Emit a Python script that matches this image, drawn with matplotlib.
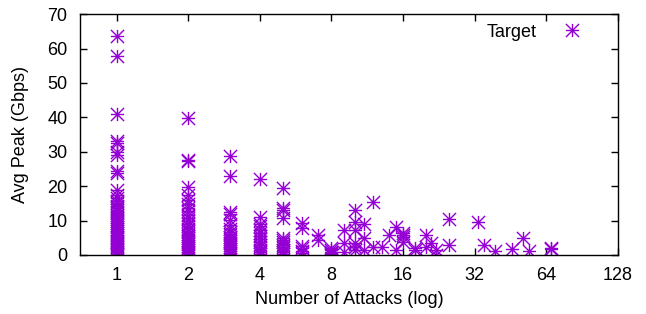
import matplotlib
matplotlib.use("Agg")
import matplotlib.pyplot as plt
from matplotlib.path import Path
import numpy as np

plt.rcParams['font.family'] = ['Liberation Sans', 'DejaVu Sans']

# number of attacks per target and the avg peak (Gbps)
n1 = [63.5, 57.8, 41.0, 33.0, 32.5, 30.0, 29.2, 24.4, 23.8, 18.9, 17.5, 16.6,
      15.8, 15.0, 14.3, 13.6, 13.0, 12.4, 11.7, 11.1, 10.5, 9.9, 9.3, 8.7, 8.1,
      7.5, 7.0, 6.4, 5.9, 5.3, 4.8, 4.2, 3.7, 3.2, 2.7, 2.2, 1.7, 1.2, 0.8, 0.4, 0.1]
n2 = [39.8, 27.7, 27.2, 19.8, 17.4, 16.1, 14.9, 13.6, 12.7, 11.6, 10.6, 9.8,
      9.0, 8.3, 7.6, 6.9, 6.2, 5.6, 5.0, 4.4, 3.8, 3.2, 2.6, 2.0, 1.5, 1.0, 0.5, 0.1]
n3 = [28.8, 22.9, 12.6, 11.8, 10.2, 8.8, 7.5, 6.8, 6.0, 5.3, 4.6, 4.0, 3.4,
      2.8, 2.2, 1.6, 1.1, 0.6, 0.2]
n4 = [22.0, 11.1, 9.0, 8.4, 7.2, 6.4, 5.5, 4.7, 3.8, 3.0, 2.2, 1.5, 0.8, 0.2]
n5 = [19.5, 13.6, 13.0, 10.8, 5.0, 4.4, 3.7, 3.0, 2.2, 1.5, 0.8, 0.2]
n6 = [9.3, 7.8, 2.6, 2.0, 1.2, 0.5]
n7 = [5.8, 4.4]
n8 = [2.0, 1.4, 1.0, 0.5, 0.2, 0.0]
rest_x = [9, 9, 9, 10, 10, 10, 10, 10, 10, 11, 11, 11, 12, 12, 13, 14, 15, 15,
          16, 16, 16, 16, 18, 18, 20, 20, 21, 22, 22, 25, 25, 33, 35, 39, 46,
          51, 54, 67, 67]
rest_y = [7.3, 3.5, 1.0, 13.1, 9.5, 7.3, 3.5, 2.4, 1.5, 9.0, 4.9, 1.5, 15.5,
          2.4, 2.4, 5.8, 8.2, 1.5, 6.4, 5.3, 3.9, 5.8, 1.5, 2.0, 5.8, 2.4, 3.4,
          1.5, 0.0, 10.4, 2.9, 9.7, 2.9, 1.2, 1.7, 4.9, 1.2, 1.7, 2.0]

xs = ([1] * len(n1) + [2] * len(n2) + [3] * len(n3) + [4] * len(n4)
      + [5] * len(n5) + [6] * len(n6) + [7] * len(n7) + [8] * len(n8) + rest_x)
ys = n1 + n2 + n3 + n4 + n5 + n6 + n7 + n8 + rest_y

# gnuplot style asterisk: + and x together
star = Path([(-1, 0), (1, 0), (0, -1), (0, 1), (-1, -1), (1, 1), (-1, 1), (1, -1)],
            [Path.MOVETO, Path.LINETO] * 4)

fs = 13

fig = plt.figure(figsize=(6.46, 3.14), dpi=100)
ax = fig.add_axes([0.124, 0.188, 0.832, 0.767])
ax.plot(xs, ys, linestyle='none', marker=star, markersize=9.5,
        markeredgewidth=1.0, color='#9400D3', markerfacecolor='none',
        label='Target')

ax.set_xscale('log', base=2)
ax.set_xlim(0.70, 128)
ax.set_ylim(0, 70)
xt = [1, 2, 4, 8, 16, 32, 64, 128]
ax.set_xticks(xt)
ax.set_xticklabels([str(t) for t in xt])
ax.minorticks_off()
ax.set_yticks(np.arange(0, 71, 10))
ax.tick_params(direction='in', top=True, right=True, length=5, width=1,
               labelsize=fs, pad=9)
for s in ax.spines.values():
    s.set_linewidth(1.0)

ax.set_xlabel('Number of Attacks (log)', fontsize=fs, labelpad=5)
ax.set_ylabel('Avg Peak (Gbps)', fontsize=fs, labelpad=13)
ax.legend(loc='upper right', bbox_to_anchor=(0.946, 0.99), frameon=False,
          markerfirst=False, fontsize=fs, handlelength=1.0,
          handletextpad=1.45, borderaxespad=0)

fig.savefig('out.png', dpi=100)
